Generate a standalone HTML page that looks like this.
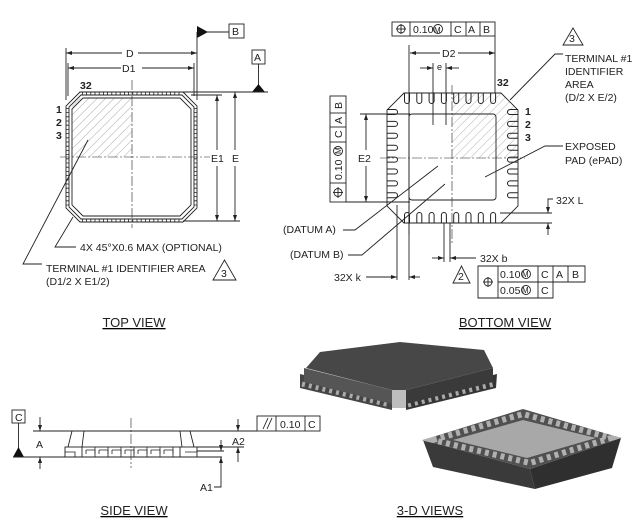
<!DOCTYPE html>
<html><head><meta charset="utf-8"><style>
html,body{margin:0;padding:0;background:#fff;}
svg{display:block;font-family:"Liberation Sans",sans-serif;}
text{fill:#222;}
</style></head><body>
<svg width="639" height="529" viewBox="0 0 639 529" xmlns="http://www.w3.org/2000/svg">
<defs>
<pattern id="h" width="6" height="6" patternUnits="userSpaceOnUse" patternTransform="rotate(45)">
<line x1="0" y1="0" x2="0" y2="6" stroke="#999" stroke-width="0.8"/>
</pattern>
<clipPath id="cb"><path d="M404,93 L501,93 L518,110 L518,206 L501,223 L404,223 L387,206 L387,110 Z"/></clipPath>
<path id="ut" d="M-2.5,0 L-2.5,8 A2.5,2.5 0 0 0 2.5,8 L2.5,0" fill="none" stroke="#222" stroke-width="1"/>
<path id="ul" d="M0,-2.5 L8,-2.5 A2.5,2.5 0 0 1 8,2.5 L0,2.5" fill="none" stroke="#222" stroke-width="1"/>
</defs>
<g stroke="#222" stroke-width="0.9" fill="none">
<!-- ===== TOP VIEW ===== -->
<rect x="72" y="98" width="60" height="59" fill="url(#h)" stroke="none"/>
<path d="M80,92 L183,92 L197,106 L197,208 L183,222 L80,222 L66,208 L66,106 Z"/>
<path d="M81,95 L182,95 L194,107 L194,207 L182,219 L81,219 L69,207 L69,107 Z"/>
<path d="M83,98 L180,98 L191,109 L191,205 L180,216 L83,216 L72,205 L72,109 Z"/>
<g stroke-width="3" stroke-dasharray="0.8 3.4">
<line x1="82" y1="93.5" x2="181" y2="93.5"/><line x1="82" y1="220.5" x2="181" y2="220.5"/>
<line x1="67.5" y1="108" x2="67.5" y2="206"/><line x1="195.5" y1="108" x2="195.5" y2="206"/>
</g>
<line x1="132" y1="80" x2="132" y2="228" stroke-dasharray="10 2 2 2" stroke-width="0.6"/>
<line x1="60" y1="157" x2="210" y2="157" stroke-dasharray="10 2 2 2" stroke-width="0.6"/>
<line x1="66" y1="48" x2="66" y2="100"/><line x1="68" y1="63" x2="68" y2="96"/>
<line x1="194" y1="63" x2="194" y2="96"/>
<line x1="66" y1="53" x2="122" y2="53"/><line x1="138" y1="53" x2="197" y2="53"/>
<line x1="68" y1="68" x2="121" y2="68"/><line x1="142" y1="68" x2="194" y2="68"/>
<line x1="197" y1="32" x2="197" y2="100"/><line x1="197" y1="32" x2="229" y2="32"/>
<polygon points="197,26 208,32 197,38" fill="#111" stroke="none"/>
<rect x="229" y="24" width="15" height="14"/>
<rect x="252" y="50" width="13" height="14"/>
<line x1="258.5" y1="64" x2="258.5" y2="86"/>
<polygon points="252,92 265,92 258.5,84" fill="#111" stroke="none"/>
<line x1="183" y1="92" x2="268" y2="92"/>
<line x1="183" y1="221" x2="240" y2="221"/><line x1="191" y1="95" x2="222" y2="95"/>
<line x1="217" y1="95" x2="217" y2="150"/><line x1="217" y1="166" x2="217" y2="221"/>
<line x1="235" y1="92" x2="235" y2="150"/><line x1="235" y1="166" x2="235" y2="221"/>
<polyline points="76,247 55,247 73,217"/>
<polyline points="42,264 23,264 88,140"/>
<polygon points="213,280 236,280 224.5,260"/>
<!-- ===== BOTTOM VIEW ===== -->
<rect x="452" y="93" width="66" height="65" fill="url(#h)" stroke="none" clip-path="url(#cb)"/>
<path d="M404,93 L501,93 L518,110 L518,206 L501,223 L404,223 L387,206 L387,110 Z"/>
<rect x="409" y="114" width="87" height="86" rx="3"/>
<line x1="452" y1="85" x2="452" y2="245" stroke-dasharray="10 2 2 2" stroke-width="0.6"/>
<line x1="380" y1="158" x2="525" y2="158" stroke-dasharray="10 2 2 2" stroke-width="0.6"/>
<g>
<use href="#ut" x="407" y="93"/><use href="#ut" x="419.3" y="93"/><use href="#ut" x="431.6" y="93"/><use href="#ut" x="443.9" y="93"/><use href="#ut" x="456.2" y="93"/><use href="#ut" x="468.5" y="93"/><use href="#ut" x="480.8" y="93"/><use href="#ut" x="493.1" y="93"/>
<g transform="translate(0,316) scale(1,-1)"><use href="#ut" x="407" y="93"/><use href="#ut" x="419.3" y="93"/><use href="#ut" x="431.6" y="93"/><use href="#ut" x="443.9" y="93"/><use href="#ut" x="456.2" y="93"/><use href="#ut" x="468.5" y="93"/><use href="#ut" x="480.8" y="93"/><use href="#ut" x="493.1" y="93"/></g>
<use href="#ul" x="387" y="112"/><use href="#ul" x="387" y="123.9"/><use href="#ul" x="387" y="135.8"/><use href="#ul" x="387" y="147.7"/><use href="#ul" x="387" y="159.6"/><use href="#ul" x="387" y="171.5"/><use href="#ul" x="387" y="183.4"/><use href="#ul" x="387" y="195.3"/>
<g transform="translate(905,0) scale(-1,1)"><use href="#ul" x="387" y="112"/><use href="#ul" x="387" y="123.9"/><use href="#ul" x="387" y="135.8"/><use href="#ul" x="387" y="147.7"/><use href="#ul" x="387" y="159.6"/><use href="#ul" x="387" y="171.5"/><use href="#ul" x="387" y="183.4"/><use href="#ul" x="387" y="195.3"/></g>
</g>
<rect x="392" y="22" width="103" height="14"/>
<line x1="410" y1="22" x2="410" y2="36"/><line x1="451" y1="22" x2="451" y2="36"/><line x1="466" y1="22" x2="466" y2="36"/><line x1="480" y1="22" x2="480" y2="36"/>
<circle cx="401" cy="29" r="4"/><line x1="401" y1="24" x2="401" y2="34"/><line x1="396" y1="29" x2="406" y2="29"/>
<circle cx="438" cy="29" r="4.5"/>
<line x1="409" y1="45" x2="409" y2="235"/><line x1="495" y1="36" x2="495" y2="93"/>
<line x1="410" y1="53" x2="440" y2="53"/><line x1="458" y1="53" x2="495" y2="53"/>
<line x1="433" y1="63" x2="433" y2="125"/><line x1="446" y1="63" x2="446" y2="125"/>
<line x1="420" y1="68" x2="433" y2="68"/><line x1="446" y1="68" x2="459" y2="68"/>
<rect x="330" y="96" width="16" height="106"/>
<line x1="330" y1="113" x2="346" y2="113"/><line x1="330" y1="127" x2="346" y2="127"/><line x1="330" y1="142" x2="346" y2="142"/><line x1="330" y1="183" x2="346" y2="183"/>
<circle cx="338" cy="192.5" r="4"/><line x1="338" y1="187" x2="338" y2="198"/><line x1="333" y1="192.5" x2="343" y2="192.5"/>
<circle cx="338" cy="151" r="4.5"/>
<line x1="346" y1="202" x2="410" y2="202"/><line x1="360" y1="114" x2="410" y2="114"/>
<line x1="366" y1="114" x2="366" y2="150"/><line x1="366" y1="166" x2="366" y2="202"/>
<polyline points="563,54 555,54 510,100"/>
<polygon points="563,45 583,45 573,28"/>
<polyline points="563,146 545,146 485,177"/>
<polyline points="343,230 355,230 438,166"/>
<polyline points="348,255 362,255 445,184"/>
<line x1="500" y1="213" x2="552" y2="213"/><line x1="500" y1="223" x2="552" y2="223"/>
<polyline points="553,199 548,199 548,213"/><line x1="548" y1="223" x2="548" y2="235"/>
<line x1="444" y1="223" x2="444" y2="262"/><line x1="450" y1="223" x2="450" y2="262"/>
<line x1="432" y1="258" x2="444" y2="258"/><line x1="450" y1="258" x2="476" y2="258"/>
<line x1="397" y1="205" x2="397" y2="280"/><line x1="409" y1="205" x2="409" y2="280"/>
<line x1="366" y1="277" x2="397" y2="277"/><line x1="409" y1="277" x2="420" y2="277"/>
<polygon points="453,283 470,283 461.5,266"/>
<path d="M478,266 H585 V282 H553 V298 H478 Z"/>
<line x1="498" y1="266" x2="498" y2="298"/><line x1="498" y1="282" x2="553" y2="282"/>
<line x1="538" y1="266" x2="538" y2="298"/><line x1="553" y1="266" x2="553" y2="282"/><line x1="568" y1="266" x2="568" y2="282"/>
<circle cx="488" cy="282" r="4"/><line x1="488" y1="277" x2="488" y2="287"/><line x1="483" y1="282" x2="493" y2="282"/>
<circle cx="526" cy="274" r="4.5"/><circle cx="526" cy="290" r="4.5"/>
<!-- ===== SIDE VIEW ===== -->
<rect x="12" y="410" width="13" height="13"/>
<line x1="18.5" y1="423" x2="18.5" y2="450"/>
<polygon points="13,457 24,457 18.5,447" fill="#111" stroke="none"/>
<line x1="13" y1="457" x2="222" y2="457"/>
<line x1="33" y1="431" x2="257" y2="431"/>
<polyline points="68,447 72,431"/><polyline points="82,447 84,431"/>
<polyline points="180,431 182,447"/><polyline points="190,431 194,447"/>
<rect x="65" y="447" width="132" height="10"/>
<line x1="82" y1="447" x2="82" y2="457"/><line x1="180" y1="447" x2="180" y2="457"/>
<g stroke-width="0.8">
<path d="M86,450 h9 v4 M99,450 h9 v4 M112,450 h9 v4 M125,450 h9 v4 M138,450 h9 v4 M151,450 h9 v4 M164,450 h9 v4 M86,450 v4 M99,450 v4 M112,450 v4 M125,450 v4 M138,450 v4 M151,450 v4 M164,450 v4"/>
<line x1="95" y1="447" x2="95" y2="457"/><line x1="108" y1="447" x2="108" y2="457"/><line x1="121" y1="447" x2="121" y2="457"/><line x1="134" y1="447" x2="134" y2="457"/><line x1="147" y1="447" x2="147" y2="457"/><line x1="160" y1="447" x2="160" y2="457"/><line x1="173" y1="447" x2="173" y2="457"/>
<path d="M65,452 h10 v5 M185,452 h12"/>
</g>
<line x1="197" y1="447" x2="244" y2="447"/><line x1="197" y1="451" x2="224" y2="451"/>
<line x1="131" y1="418" x2="131" y2="468" stroke-dasharray="10 2 2 2" stroke-width="0.6"/>
<line x1="40" y1="417" x2="40" y2="431"/><line x1="40" y1="457" x2="40" y2="469"/>
<line x1="238" y1="419" x2="238" y2="431"/><line x1="238" y1="447" x2="238" y2="462"/>
<line x1="221" y1="440" x2="221" y2="451"/><polyline points="221,457 221,487 214,487"/>
<rect x="257" y="416" width="63" height="15"/>
<line x1="276" y1="416" x2="276" y2="431"/><line x1="305" y1="416" x2="305" y2="431"/>
<line x1="263" y1="429" x2="268" y2="418"/><line x1="267" y1="429" x2="272" y2="418"/>
</g>
<g fill="#222">
<polygon points="66,53 72,51 72,55"/><polygon points="197,53 191,51 191,55"/>
<polygon points="68,68 74,66 74,70"/><polygon points="194,68 188,66 188,70"/>
<polygon points="217,95 215,101 219,101"/><polygon points="217,221 215,215 219,215"/>
<polygon points="235,92 233,98 237,98"/><polygon points="235,221 233,215 237,215"/>
<polygon points="410,53 416,51 416,55"/><polygon points="495,53 489,51 489,55"/>
<polygon points="433,68 427,66 427,70"/><polygon points="446,68 452,66 452,70"/>
<polygon points="366,114 364,120 368,120"/><polygon points="366,202 364,196 368,196"/>
<polygon points="548,213 546,207 550,207"/><polygon points="548,223 546,229 550,229"/>
<polygon points="444,258 438,256 438,260"/><polygon points="450,258 456,256 456,260"/>
<polygon points="397,277 391,275 391,279"/><polygon points="409,277 415,275 415,279"/>
<polygon points="40,431 38,425 42,425"/><polygon points="40,457 38,463 42,463"/>
<polygon points="238,431 236,425 240,425"/><polygon points="238,447 236,453 240,453"/>
<polygon points="221,451 219,445 223,445"/><polygon points="221,457 219,463 223,463"/>
</g>
<!-- ===== 3D ===== -->
<g>
<polygon points="300,374 392,396 392,410 300,388" fill="#454545"/>
<polygon points="406,396 497,374 496,388 406,410" fill="#353535"/>
<g stroke="#aaa" stroke-width="5" stroke-dasharray="3 4"><line x1="302" y1="384" x2="390" y2="405"/><line x1="408" y1="405" x2="494" y2="384"/></g>
<polygon points="304,368 392,390 392,404 304,382" fill="#555"/>
<polygon points="406,390 493,368 493,382 406,404" fill="#3a3a3a"/>
<polygon points="306,368 320,352 400,342 484,350 493,368 406,390 392,390" fill="#474747"/>
<polygon points="392,390 406,390 406,408 392,408" fill="#bdbdbd"/>
<polygon points="423,440 530,469 535,489 433,467" fill="#3a3a3a"/>
<polygon points="530,469 621,438 612,468 535,489" fill="#2f2f2f"/>
<polygon points="423,440 523,409 621,438 530,469" fill="#505050"/>
<polygon points="433,440 523,414 611,438 530,463" fill="none" stroke="#b0b0b0" stroke-width="6" stroke-dasharray="4 4"/>
<polygon points="453,440 523,420 596,438 527,458" fill="#a8a8a8"/>
</g>
<!-- ===== TEXT ===== -->
<g font-size="10.5">
<text x="126" y="57">D</text><text x="122" y="72">D1</text>
<text x="232" y="35">B</text><text x="254" y="61">A</text>
<text x="211" y="162">E1</text><text x="232" y="162">E</text>
<text x="80" y="89" font-weight="bold">32</text>
<text x="56" y="113" font-weight="bold">1</text><text x="56" y="126" font-weight="bold">2</text><text x="56" y="139" font-weight="bold">3</text>
<text x="80" y="251">4X 45°X0.6 MAX (OPTIONAL)</text>
<text x="46" y="272">TERMINAL #1 IDENTIFIER AREA</text>
<text x="46" y="285">(D1/2 X E1/2)</text>
<text x="221" y="277">3</text>
<text x="413" y="33">0.10</text><text x="434" y="33" font-size="8">M</text><text x="454" y="33">C</text><text x="468" y="33">A</text><text x="483" y="33">B</text>
<text x="442" y="57">D2</text><text x="437" y="70" font-size="9">e</text>
<text x="497" y="86" font-weight="bold">32</text>
<text x="525" y="115" font-weight="bold">1</text><text x="525" y="128" font-weight="bold">2</text><text x="525" y="141" font-weight="bold">3</text>
<text x="569" y="42">3</text>
<text x="565" y="62">TERMINAL #1</text><text x="565" y="75">IDENTIFIER</text><text x="565" y="88">AREA</text><text x="565" y="101">(D/2 X E/2)</text>
<text x="565" y="150">EXPOSED</text><text x="565" y="164">PAD (ePAD)</text>
<text x="358" y="162">E2</text>
<text x="556" y="204">32X L</text>
<text x="283" y="233">(DATUM A)</text><text x="290" y="258">(DATUM B)</text>
<text x="480" y="262">32X b</text><text x="334" y="281">32X k</text>
<text x="458" y="280">2</text>
<text x="500" y="278">0.10</text><text x="522" y="277" font-size="8">M</text><text x="541" y="278">C</text><text x="556" y="278">A</text><text x="572" y="278">B</text>
<text x="500" y="294">0.05</text><text x="522" y="293" font-size="8">M</text><text x="541" y="294">C</text>
<text x="15" y="421">C</text><text x="36" y="448">A</text><text x="232" y="445">A2</text><text x="200" y="491">A1</text>
<text x="280" y="428">0.10</text><text x="308" y="428">C</text>
</g>
<g transform="translate(342,202) rotate(-90)" font-size="10.5">
<text x="22" y="0">0.10</text><text x="48" y="-1" font-size="8">M</text><text x="64" y="0">C</text><text x="78" y="0">A</text><text x="93" y="0">B</text>
</g>
<g font-size="13" text-decoration="underline">
<text x="134" y="327" text-anchor="middle">TOP VIEW</text>
<text x="505" y="327" text-anchor="middle">BOTTOM VIEW</text>
<text x="134" y="515" text-anchor="middle">SIDE VIEW</text>
<text x="430" y="515" text-anchor="middle">3-D VIEWS</text>
</g>
</svg>
</body></html>
